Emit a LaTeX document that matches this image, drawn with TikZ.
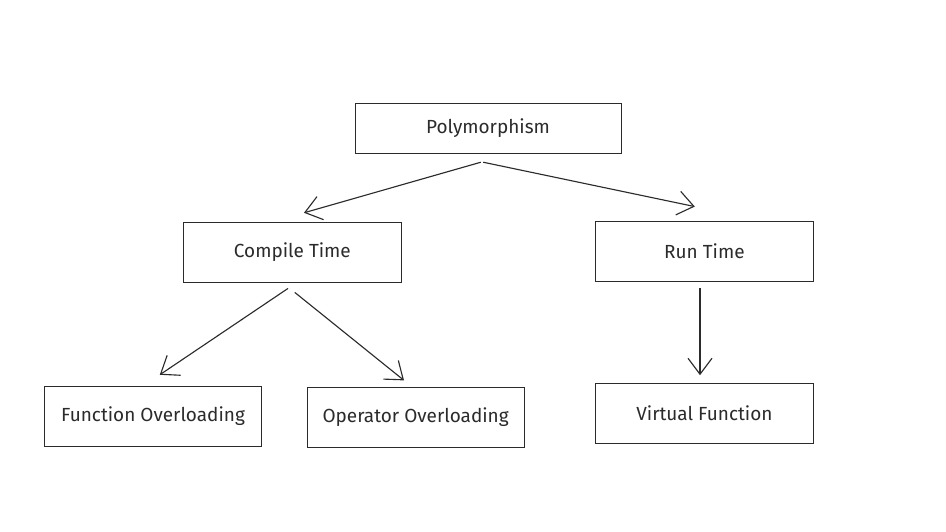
\documentclass[tikz,border=0pt]{standalone}
\usepackage{fontspec}
\setmainfont{Fira Sans}
\usepackage{xcolor}
\usepackage{tikz}
\usetikzlibrary{arrows.meta,positioning}

\definecolor{ink}{HTML}{2B2B2B}

\begin{document}
\begin{tikzpicture}[
  font=\fontsize{13.5}{16}\selectfont,
  >={Straight Barb[length=4mm,width=6mm]},
  box/.style={draw=ink, line width=0.6pt, fill=white, text=ink,
              minimum height=1.5cm, minimum width=5.43cm, align=center},
  topbox/.style={box, minimum height=1.25cm, minimum width=6.65cm},
  flow/.style={->, line width=0.8pt, ink},
]

%% ── Canvas ───────────────────────────────────────────────────────────────────
\useasboundingbox[fill=white] (0,0) rectangle (23.65,-13.275);

%% ── Boxes ────────────────────────────────────────────────────────────────────
\node[topbox] (poly) at (12.2,-3.2)    {Polymorphism};
\node[box]    (comp) at (7.31,-6.3)    {Compile Time};
\node[box]    (run)  at (17.61,-6.275) {Run Time};
\node[box]    (func) at (3.825,-10.4)  {Function Overloading};
\node[box]    (oper) at (10.39,-10.44) {Operator Overloading};
\node[box]    (virt) at (17.61,-10.34) {Virtual Function};

%% ── Arrows ───────────────────────────────────────────────────────────────────
\draw[flow] ([xshift=-0.18cm,yshift=-0.22cm]poly.south)
         -- ([xshift=0.29cm,yshift=0.22cm]comp.north);
\draw[flow] ([xshift=-0.12cm,yshift=-0.22cm]poly.south)
         -- ([xshift=-0.24cm,yshift=0.35cm]run.north);
\draw[flow] ([xshift=-0.11cm,yshift=-0.15cm]comp.south)
         -- ([xshift=0.17cm,yshift=0.27cm]func.north);
\draw[flow] ([xshift=0.06cm,yshift=-0.25cm]comp.south)
         -- ([xshift=-0.29cm,yshift=0.17cm]oper.north);
\draw[flow] ([xshift=-0.11cm,yshift=-0.17cm]run.south)
         -- ([xshift=-0.11cm,yshift=0.2cm]virt.north);

\end{tikzpicture}
\end{document}
